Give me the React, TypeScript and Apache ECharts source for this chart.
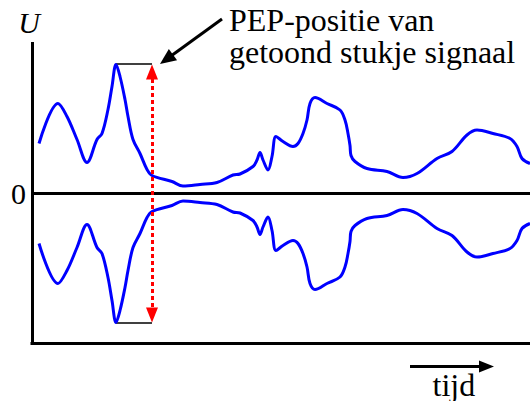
import React, { useEffect, useRef } from 'react';
import * as echarts from 'echarts';

// Time positions (arbitrary units) and envelope amplitude (arbitrary units)
const timePoints = [
  7, 26, 35, 45, 55, 65, 70, 76, 80, 84, 88, 93, 96, 101, 108, 115, 120, 140, 151, 168, 185, 201, 208,
  221, 225, 228, 231, 236, 240, 244, 251, 261, 266, 271, 275, 278, 283, 295, 308, 313, 316, 318, 319,
  323, 335, 355, 371, 385, 405, 420, 435, 445, 461, 478, 485, 490, 498,
];
const envelope = [
  50, 90, 77, 54, 31, 54, 60, 84, 107, 129, 117, 94, 77, 54, 40, 24, 18, 12, 7.5, 9, 11, 18.5, 19.5,
  27, 33.5, 41, 33.5, 23.5, 37, 57, 52, 47, 50, 60, 73.5, 90, 96, 90, 83.5, 73.5, 60, 48, 38,
  32, 25, 22, 16, 20, 35, 42, 58.5, 63.5, 60, 55, 47, 35, 30,
];

const peakTime = 84; // time of the envelope maximum
const pepTime = 120; // time of the PEP marker
const peakLevel = 129.5; // level of the PEP (peak envelope power) marker
const yTickLabels = ['0'];
const yAxisName = 'U';
const annotationLines = ['PEP-positie van', 'getoond stukje signaal'];
const timeLabel = 'tijd';

const SERIF = 'Liberation Serif, Times New Roman, serif';

export default function App() {
  const ref = useRef<HTMLDivElement>(null);

  useEffect(() => {
    document.body.style.margin = '0';
    const chart = echarts.init(ref.current!, null, { renderer: 'svg' });

    const upper = timePoints.map((t, i) => [t, envelope[i]]);
    const lower = timePoints.map((t, i) => [t, -envelope[i]]);
    const tipOffset = 8;

    const textStyle = {
      fontSize: 32,
      fontFamily: SERIF,
      fontWeight: 'normal',
      color: '#000',
      lineHeight: 30,
    };

    const blueLine = {
      type: 'line',
      smooth: 0.35,
      symbol: 'none',
      showSymbol: false,
      lineStyle: { color: '#0000ff', width: 3 },
      itemStyle: { color: '#0000ff' },
      emphasis: { disabled: true },
      silent: true,
      z: 3,
    };

    chart.setOption({
      animation: false,
      title: [
        ...annotationLines.map((line, i) => ({
          text: line,
          left: 229,
          top: 5 + i * 32,
          padding: 0,
          textStyle,
        })),
        {
          text: timeLabel,
          left: 432.5,
          top: 370,
          padding: 0,
          textStyle,
        },
      ],
      grid: { left: 32, right: 0, top: 43.5, bottom: 57.5, containLabel: false },
      xAxis: {
        type: 'value',
        min: 0,
        max: 498,
        axisLine: { show: true, onZero: false, lineStyle: { color: '#000', width: 3, cap: 'square' } },
        axisTick: { show: false },
        axisLabel: { show: false },
        splitLine: { show: false },
      },
      yAxis: {
        type: 'value',
        min: -150,
        max: 150,
        interval: 150,
        name: yAxisName,
        nameLocation: 'end',
        nameGap: 6,
        nameTextStyle: {
          fontStyle: 'italic',
          fontSize: 30,
          fontFamily: SERIF,
          color: '#000',
          padding: [0, 6, 0, 0],
        },
        axisLine: { show: true, onZero: false, lineStyle: { color: '#000', width: 3, cap: 'square' } },
        axisTick: { show: false },
        splitLine: { show: false },
        axisLabel: {
          formatter: (v: number) => (v === 0 ? yTickLabels[0] : ''),
          fontSize: 30,
          fontFamily: SERIF,
          color: '#000',
          margin: 6,
          padding: [0, 0, 6, 0],
        },
      },
      series: [
        {
          ...blueLine,
          name: 'boven',
          data: upper,
          markLine: {
            silent: true,
            symbol: ['none', 'none'],
            label: { show: false },
            lineStyle: { color: '#000', width: 3, type: 'solid' },
            emphasis: { disabled: true },
            data: [{ yAxis: 0 }],
          },
        },
        { ...blueLine, name: 'onder', data: lower },
        {
          type: 'line',
          name: 'pep-boven',
          data: [
            [peakTime, peakLevel],
            [pepTime, peakLevel],
          ],
          symbol: 'none',
          lineStyle: { color: '#000', width: 1.5 },
          emphasis: { disabled: true },
          silent: true,
          z: 2,
          markLine: {
            silent: true,
            symbol: ['triangle', 'triangle'],
            symbolSize: [12, 15],
            label: { show: false },
            lineStyle: { color: '#ff0000', width: 3, type: [4, 3] },
            itemStyle: { color: '#ff0000' },
            emphasis: { disabled: true },
            data: [
              [
                { coord: [pepTime, peakLevel - tipOffset] },
                { coord: [pepTime, -(peakLevel - tipOffset)] },
              ],
            ],
          },
        },
        {
          type: 'line',
          name: 'pep-onder',
          data: [
            [peakTime, -peakLevel],
            [pepTime, -peakLevel],
          ],
          symbol: 'none',
          lineStyle: { color: '#000', width: 1.5 },
          emphasis: { disabled: true },
          silent: true,
          z: 2,
        },
      ],
    });

    const [mx, my] = chart.convertToPixel({ gridIndex: 0 }, [pepTime, peakLevel]) as number[];
    const tip = [mx + 8, my];
    const start = [222, 19];
    const dx = tip[0] - start[0];
    const dy = tip[1] - start[1];
    const len = Math.hypot(dx, dy);
    const ux = dx / len;
    const uy = dy / len;
    const headL = 16;
    const headW = 7;
    const base = [tip[0] - ux * headL, tip[1] - uy * headL];

    chart.setOption({
      graphic: [
        {
          type: 'line',
          shape: { x1: start[0], y1: start[1], x2: base[0] + ux * 2, y2: base[1] + uy * 2 },
          style: { stroke: '#000', lineWidth: 3 },
        },
        {
          type: 'polygon',
          shape: {
            points: [
              tip,
              [base[0] - uy * headW, base[1] + ux * headW],
              [base[0] + uy * headW, base[1] - ux * headW],
            ],
          },
          style: { fill: '#000' },
        },
        {
          type: 'line',
          shape: { x1: 410, y1: 366.5, x2: 481, y2: 366.5 },
          style: { stroke: '#000', lineWidth: 3 },
        },
        {
          type: 'polygon',
          shape: { points: [[479, 360.5], [494, 366.5], [479, 372.5]] },
          style: { fill: '#000' },
        },
      ],
    });

    return () => chart.dispose();
  }, []);

  return (
    <div
      ref={ref}
      style={{ position: 'absolute', left: 0, top: 0, width: 530, height: 401 }}
    />
  );
}
